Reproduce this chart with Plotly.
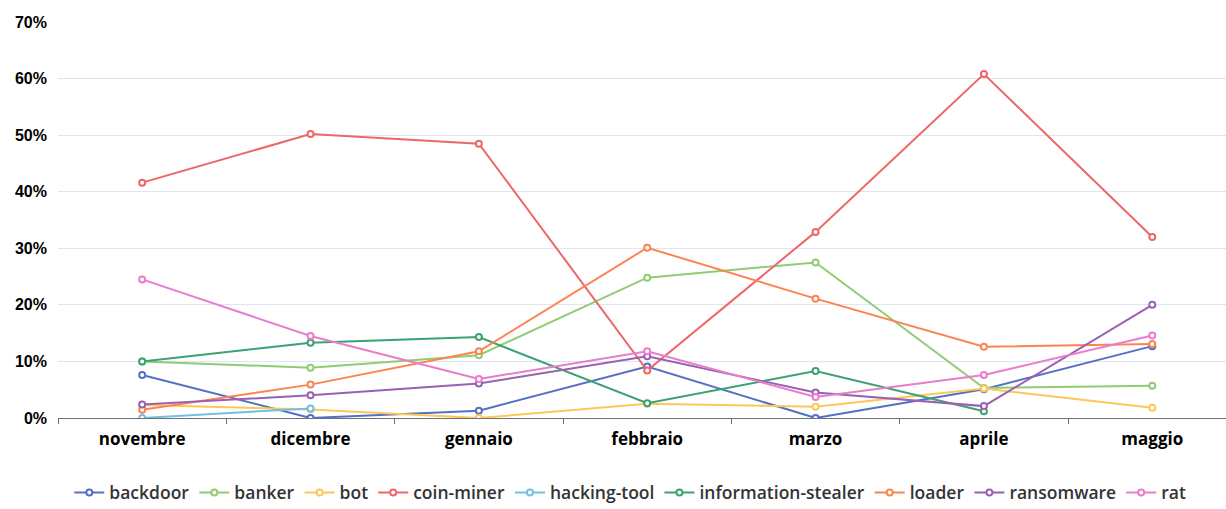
import plotly.graph_objects as go

months = ["novembre", "dicembre", "gennaio", "febbraio", "marzo", "aprile", "maggio"]

backdoor = [7.6, 0.0, 1.3, 9.1, 0.0, 5.1, 12.7]
banker = [10.0, 8.9, 11.1, 24.8, 27.5, 5.3, 5.7]
bot = [2.3, 1.5, 0.0, 2.5, 2.0, 5.2, 1.8]
coin_miner = [41.6, 50.2, 48.5, 8.4, 32.9, 60.8, 32.0]
hacking_tool = [0.0, 1.7, None, None, None, None, None]
information_stealer = [10.0, 13.3, 14.3, 2.6, 8.3, 1.2, None]
loader = [1.45, 5.9, 11.8, 30.1, 21.1, 12.6, 13.1]
ransomware = [2.4, 4.0, 6.1, 10.9, 4.5, 2.1, 20.0]
rat = [24.5, 14.5, 6.9, 11.8, 3.7, 7.6, 14.6]

series = [
    ("backdoor", backdoor, "#5470c6"),
    ("banker", banker, "#91cc75"),
    ("bot", bot, "#fac858"),
    ("coin-miner", coin_miner, "#ee6666"),
    ("hacking-tool", hacking_tool, "#73c0de"),
    ("information-stealer", information_stealer, "#3ba272"),
    ("loader", loader, "#fc8452"),
    ("ransomware", ransomware, "#9a60b4"),
    ("rat", rat, "#ea7ccc"),
]

fig = go.Figure()
for name, vals, color in series:
    fig.add_trace(go.Scatter(
        x=months, y=vals, name=name, mode="lines+markers",
        line=dict(color=color, width=2),
        marker=dict(symbol="circle", size=6, color="white",
                    line=dict(color=color, width=2)),
    ))

fig.update_layout(
    width=1226, height=509,
    margin=dict(l=58, r=0, t=22, b=91),
    paper_bgcolor="white", plot_bgcolor="white",
    font=dict(family="Liberation Sans, Arial, sans-serif", color="#000000"),
    showlegend=True,
    legend=dict(orientation="h", x=0.49, xanchor="center",
                yref="container", y=0.032, yanchor="middle",
                font=dict(size=17.5, color="#333333", family="Open Sans", weight=600),
                itemwidth=30, tracegroupgap=0),
)
fig.update_xaxes(
    type="category", range=[-0.5, 6.438],
    showline=True, linecolor="#6E7079", linewidth=1,
    ticks="outside", tickson="boundaries", ticklen=5, tickcolor="#6E7079",
    showgrid=False, zeroline=False,
    tickfont=dict(size=17, color="#000000", family="Open Sans", weight=700),
    ticklabelstandoff=6,
)
fig.update_yaxes(
    range=[0, 70], dtick=10, ticksuffix="%",
    showgrid=True, gridcolor="#E0E6F1", gridwidth=1,
    zeroline=False, showline=False, ticks="",
    tickfont=dict(size=16, color="#000000", family="Liberation Sans, Arial, sans-serif",
                  weight=700),
    ticklabelstandoff=10,
)

fig.write_html("out.html")
